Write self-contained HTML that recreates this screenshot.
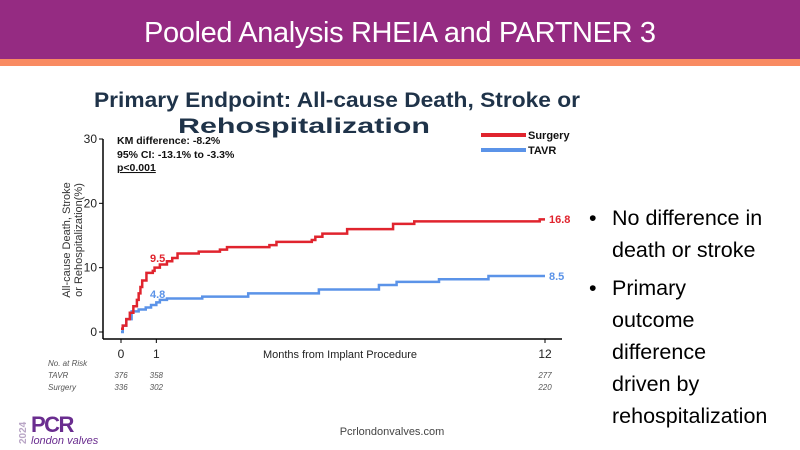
<!DOCTYPE html>
<html><head><meta charset="utf-8"><style>
html,body{margin:0;padding:0;width:800px;height:450px;overflow:hidden;background:#fff;font-family:"Liberation Sans",sans-serif}
</style></head><body>
<svg width="800" height="450" xmlns="http://www.w3.org/2000/svg">
<rect x="0" y="0" width="800" height="59" fill="#952b82"/>
<rect x="0" y="59" width="800" height="7" fill="#f98b62"/>
<text x="400" y="42" text-anchor="middle" fill="#fff" font-size="29" font-family="Liberation Sans, sans-serif" textLength="512">Pooled Analysis RHEIA and PARTNER 3</text>
<g font-weight="bold" fill="#1f3349" font-size="21" text-anchor="middle">
<text x="337" y="107" textLength="486" lengthAdjust="spacingAndGlyphs">Primary Endpoint: All-cause Death, Stroke or</text>
<text x="304" y="133" textLength="252" lengthAdjust="spacingAndGlyphs">Rehospitalization</text>
</g>
<g id="chart"></g>
<g font-size="21.5" fill="#000">
<text x="589" y="225">•</text><text x="612" y="225">No difference in</text>
<text x="612" y="257">death or stroke</text>
<text x="589" y="295">•</text><text x="612" y="295">Primary</text>
<text x="612" y="327">outcome</text>
<text x="612" y="359">difference</text>
<text x="612" y="391">driven by</text>
<text x="612" y="423">rehospitalization</text>
</g>
<text x="392" y="435" text-anchor="middle" font-size="11" fill="#444">Pcrlondonvalves.com</text>
<g>
<text transform="translate(26,444) rotate(-90)" font-size="10" font-weight="bold" fill="#b9a6c6">2024</text>
<text x="31" y="432" font-size="22" font-weight="bold" fill="#6a2d8f" letter-spacing="-1.5">PCR</text>
<text x="31" y="444" font-size="11" font-style="italic" fill="#6a2d8f">london valves</text>
</g>
</svg>
<script>
const tickMonths=[0,1,12];
const yTicks=[0,10,20,30];
const surgMonths=[0,0.05,0.15,0.25,0.35,0.45,0.5,0.55,0.6,0.72,0.9,0.95,1.1,1.3,1.45,1.6,2.2,2.8,3.0,4.2,4.4,5.4,5.5,5.7,6.4,7.7,8.3,11.85,12];
const surgVals=[0.5,1,2,3,4,5,6,7,8,9.2,9.5,10,10.5,11,11.5,12.2,12.5,12.8,13.2,13.5,14,14.3,14.8,15.3,16,16.8,17.2,17.5,17.5];
const tavrMonths=[0,0.05,0.15,0.3,0.5,0.7,0.85,1.0,1.1,1.3,2.3,3.6,5.6,7.3,7.8,9.0,10.4,12];
const tavrVals=[0,1,2,3.2,3.5,3.8,4.2,4.6,5,5.2,5.5,6,6.6,7.3,7.8,8.2,8.7,8.7];
const riskRows=["TAVR","Surgery"];
const riskTAVR=[376,358,277];
const riskSurg=[336,302,220];
const ns="http://www.w3.org/2000/svg";
const g=document.getElementById('chart');
const X=m=>121+m*(545-121)/12;
const Y=v=>332-v*(332-139)/30;
function el(t,a,txt){const e=document.createElementNS(ns,t);for(const k in a)e.setAttribute(k,a[k]);if(txt!=null)e.textContent=txt;g.appendChild(e);return e;}
let e;
e=el('line',{x1:103,y1:139,x2:103,y2:339,stroke:'#000','stroke-width':1.5});

e=el('line',{x1:103,y1:339,x2:562,y2:339,stroke:'#000','stroke-width':1.5});

yTicks.forEach(v=>{
 el('line',{x1:99,y1:Y(v),x2:103,y2:Y(v),stroke:'#000'});
 e=el('text',{x:97,y:Y(v)+4,'text-anchor':'end','font-size':12,fill:'#222'},v);
 
});
tickMonths.forEach(m=>{
 el('line',{x1:X(m),y1:339,x2:X(m),y2:343,stroke:'#000'});
 e=el('text',{x:X(m),y:358,'text-anchor':'middle','font-size':12,fill:'#222'},m);
 
});
e=el('text',{x:340,y:358,'text-anchor':'middle','font-size':11,fill:'#222'},'Months from Implant Procedure');

e=el('text',{transform:'translate(70,240) rotate(-90)','text-anchor':'middle','font-size':11,fill:'#333'},'All-cause Death, Stroke');

e=el('text',{transform:'translate(82,240) rotate(-90)','text-anchor':'middle','font-size':11,fill:'#333'},'or Rehospitalization(%)');

function step(ms,vs){let d='M'+X(ms[0])+','+Y(vs[0]);for(let i=1;i<ms.length;i++){d+=' H'+X(ms[i])+' V'+Y(vs[i]);}return d;}
e=el('path',{d:step(tavrMonths,tavrVals),fill:'none',stroke:'#5b93e8','stroke-width':2.5});

e=el('path',{d:step(surgMonths,surgVals),fill:'none',stroke:'#e0242e','stroke-width':2.5});

e=el('text',{x:150,y:262,'font-size':11,'font-weight':'bold',fill:'#e0242e'},'9.5');

e=el('text',{x:150,y:298,'font-size':11,'font-weight':'bold',fill:'#5b93e8'},'4.8');

e=el('text',{x:549,y:223,'font-size':11,'font-weight':'bold',fill:'#e0242e'},'16.8');

e=el('text',{x:549,y:280,'font-size':11,'font-weight':'bold',fill:'#5b93e8'},'8.5');

e=el('text',{x:117,y:144,'font-size':10.5,'font-weight':'bold',fill:'#111'},'KM difference: -8.2%');

e=el('text',{x:117,y:158,'font-size':10.5,'font-weight':'bold',fill:'#111'},'95% CI: -13.1% to -3.3%');

e=el('text',{x:117,y:171,'font-size':10.5,'font-weight':'bold',fill:'#111','text-decoration':'underline'},'p<0.001');

e=el('line',{x1:481,y1:135,x2:526,y2:135,stroke:'#e0242e','stroke-width':4});

e=el('text',{x:528,y:139,'font-size':11,'font-weight':'bold',fill:'#111'},'Surgery');

e=el('line',{x1:481,y1:150,x2:526,y2:150,stroke:'#5b93e8','stroke-width':4});

e=el('text',{x:528,y:154,'font-size':11,'font-weight':'bold',fill:'#111'},'TAVR');

e=el('text',{x:48,y:366,'font-size':8,'font-style':'italic',fill:'#555'},'No. at Risk');

[riskTAVR,riskSurg].forEach((row,i)=>{
 const yy=378+i*12;
 e=el('text',{x:48,y:yy,'font-size':8,'font-style':'italic',fill:'#555'},riskRows[i]);
 
 row.forEach((n,j)=>{
  e=el('text',{x:X(tickMonths[j]),y:yy,'text-anchor':'middle','font-size':8,'font-style':'italic',fill:'#555'},n);
  
 });
});
</script>
</body></html>
